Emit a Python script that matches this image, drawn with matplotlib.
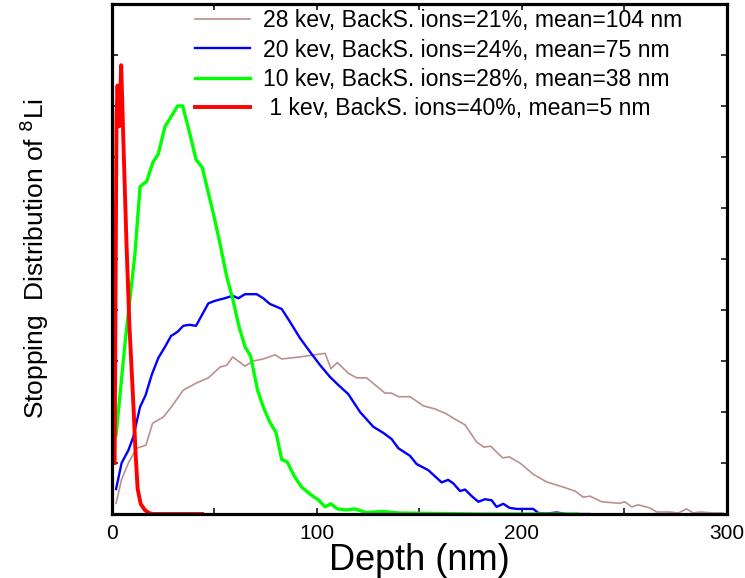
import matplotlib
matplotlib.use("Agg")
import matplotlib.pyplot as plt
from matplotlib.ticker import MultipleLocator, NullFormatter

plt.rcParams["font.family"] = ["Liberation Sans", "DejaVu Sans"]

# Depth (nm) and stopping distribution (arb. units) for each implantation energy
depth_28kev = [2, 4.7, 8, 12, 16.6, 19.8, 25, 29, 34.8, 41.3, 47, 52.7, 56, 58.9, 64.9,
               68.9, 73.8, 79.5, 82.8, 91.7, 104, 106.8, 109.9, 115.3, 119.4, 124.2,
               133.2, 136.4, 139.7, 145.4, 151.9, 157.6, 163.3, 167.3, 172.2, 177.9,
               181.5, 184.7, 190.6, 193.8, 199, 205.5, 212, 220, 225.9, 229.9, 233.2,
               238.9, 244.6, 247.5, 250.2, 253.5, 256.7, 262.4, 265.7, 272, 276.3,
               280.3, 283.5, 287, 293, 298]
dist_28kev = [0.21, 0.68, 1.0, 1.29, 1.35, 1.78, 1.9, 2.1, 2.43, 2.57, 2.67, 2.88, 2.92,
              3.08, 2.9, 3.0, 3.04, 3.12, 3.04, 3.08, 3.15, 2.85, 2.97, 2.76, 2.67, 2.67,
              2.37, 2.37, 2.3, 2.3, 2.12, 2.06, 1.96, 1.86, 1.75, 1.41, 1.31, 1.33, 1.1,
              1.12, 1.0, 0.78, 0.63, 0.53, 0.45, 0.33, 0.35, 0.24, 0.22, 0.21, 0.24, 0.14,
              0.18, 0.12, 0.04, 0.04, 0.02, 0.1, 0.02, 0.04, 0.02, 0.02]

depth_20kev = [2, 4.7, 8, 10.4, 13.7, 16.4, 19.4, 22.6, 25.9, 28.8, 31.9, 34.8, 37.7, 41,
               47, 50.2, 55, 58.9, 61.6, 64.9, 70.6, 73.8, 77, 82.8, 86.8, 91.7, 96.6,
               101.5, 106.3, 110.4, 115.3, 121, 127.5, 132.4, 136.4, 139.7, 145.4, 148.6,
               154.3, 160.8, 164, 166.5, 169.8, 172.2, 175.5, 178.7, 182, 185.2, 187.6,
               190.9, 194, 197.4, 205.5, 208, 212, 217, 222, 233]
dist_20kev = [0.49, 1.0, 1.25, 1.51, 2.1, 2.33, 2.73, 3.06, 3.28, 3.49, 3.57, 3.69, 3.71,
              3.69, 4.13, 4.18, 4.23, 4.28, 4.23, 4.31, 4.31, 4.23, 4.12, 4.02, 3.77, 3.45,
              3.18, 2.92, 2.69, 2.53, 2.35, 2.0, 1.71, 1.59, 1.47, 1.29, 1.14, 0.98, 0.86,
              0.62, 0.67, 0.6, 0.45, 0.48, 0.35, 0.24, 0.29, 0.27, 0.14, 0.2, 0.12, 0.1,
              0.1, 0.02, 0.01, 0.03, 0.0, 0.0]

depth_10kev = [2, 6.5, 11.2, 13.7, 16.9, 20, 22.5, 25.9, 29, 32, 34.5, 37.7, 41, 44, 49.4,
               52.7, 56, 59, 62, 65, 67.6, 71, 73.8, 77, 80, 82.8, 85.5, 88.8, 92.5, 96.6,
               100.6, 104, 106.7, 110, 114.5, 118.5, 124, 132, 140, 160, 180, 200, 227]
dist_10kev = [1.55, 3.4, 5.1, 6.42, 6.52, 6.9, 7.05, 7.6, 7.8, 8.0, 8.0, 7.5, 6.95, 6.8,
              5.9, 5.3, 4.65, 4.2, 3.67, 3.27, 3.1, 2.43, 2.1, 1.8, 1.6, 1.07, 1.02, 0.75,
              0.53, 0.39, 0.28, 0.14, 0.2, 0.1, 0.08, 0.1, 0.03, 0.05, 0.02, 0.01, 0, 0, 0]

depth_1kev = [1.3, 2.2, 2.7, 3.5, 4.5, 5.5, 7, 8.5, 9.5, 10.5, 11.5, 12.5, 14, 16, 18, 20,
              25, 30, 35, 40, 44]
dist_1kev = [1.0, 7.7, 8.4, 7.6, 8.8, 7.4, 5.4, 3.7, 2.9, 2.1, 1.2, 0.5, 0.2, 0.08, 0.02,
             0, 0, 0, 0, 0, 0]

labels = [
    "28 kev, BackS. ions=21%, mean=104 nm",
    "20 kev, BackS. ions=24%, mean=75 nm",
    "10 kev, BackS. ions=28%, mean=38 nm",
    " 1 kev, BackS. ions=40%, mean=5 nm",
]

fig = plt.figure(figsize=(7.45, 5.78), dpi=100)
ax = fig.add_axes([0.1503, 0.1107, 0.8255, 0.8824])

ax.plot(depth_28kev, dist_28kev, color="#bc8f8f", linewidth=1.2, label=labels[0])
ax.plot(depth_20kev, dist_20kev, color="#0000ff", linewidth=1.7, label=labels[1])
ax.plot(depth_10kev, dist_10kev, color="#00ff00", linewidth=2.4, label=labels[2])
ax.plot(depth_1kev, dist_1kev, color="#ff0000", linewidth=2.8, label=labels[3])

ax.set_xlim(0, 300)
ax.set_ylim(0, 10)
ax.xaxis.set_major_locator(MultipleLocator(100))
ax.xaxis.set_minor_locator(MultipleLocator(50))
ax.yaxis.set_major_locator(MultipleLocator(1))
ax.yaxis.set_major_formatter(NullFormatter())
ax.tick_params(which="both", direction="in", top=True, right=True,
               length=4, width=1.1, labelsize=15, pad=7)

for spine in ax.spines.values():
    spine.set_linewidth(2.3)

ax.set_xlabel("Depth (nm)", fontsize=26, labelpad=0)
ax.set_ylabel("Stopping  Distribution of $^{8}$Li", fontsize=19, labelpad=37)

ax.legend(loc="upper left", bbox_to_anchor=(0.135, 0.99), frameon=False,
          fontsize=16.6, handlelength=2.39, handletextpad=0.56,
          borderpad=0, borderaxespad=0, labelspacing=0.28)

fig.savefig("out.png", dpi=100)
